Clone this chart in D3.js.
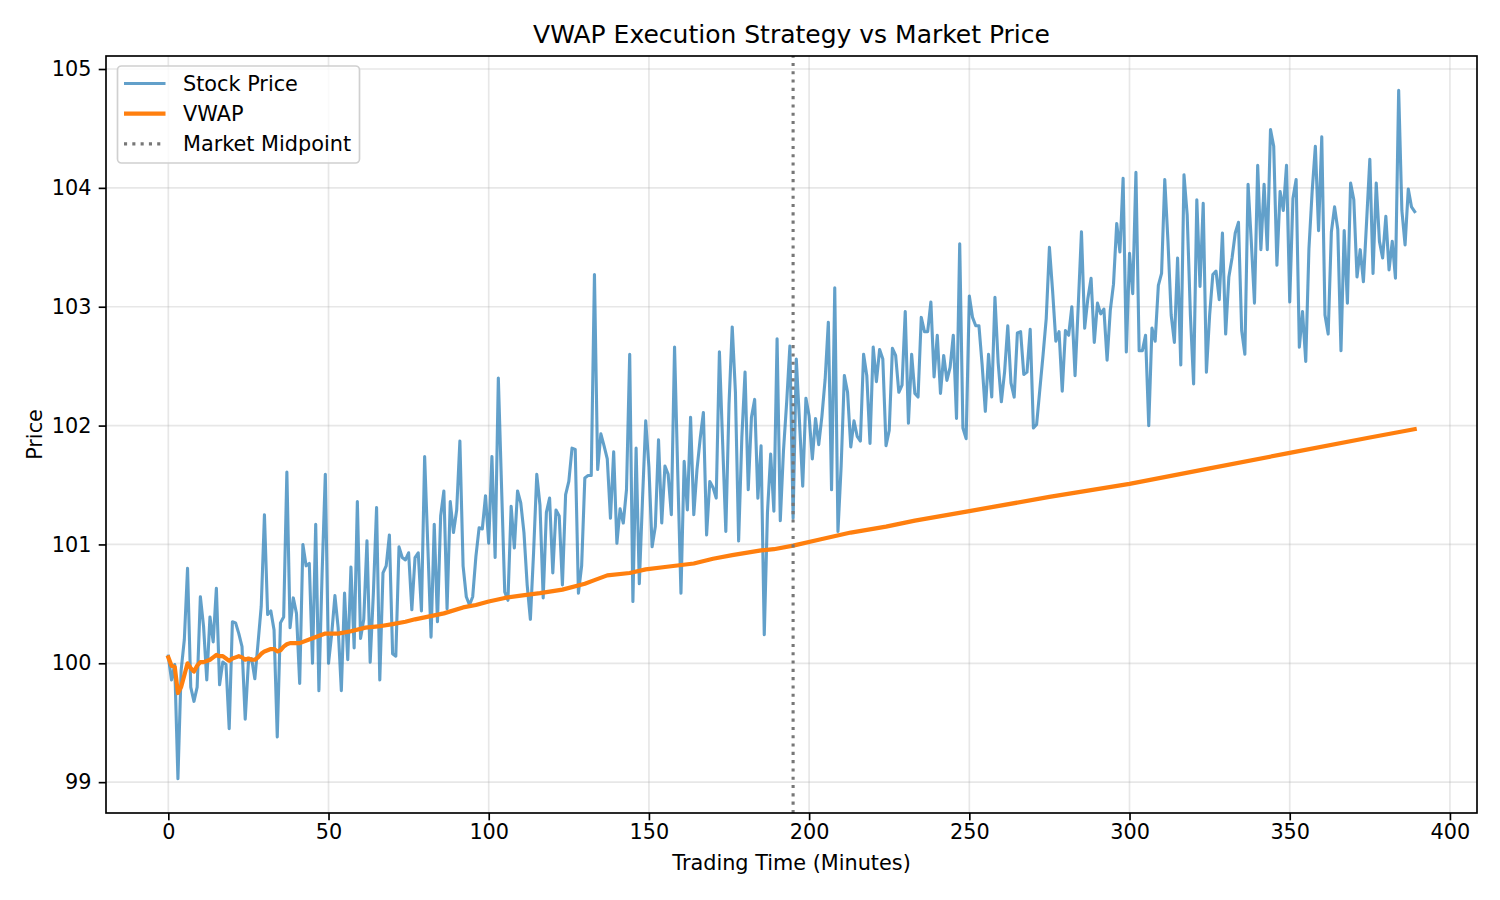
<!DOCTYPE html>
<html><head><meta charset="utf-8">
<script src="https://cdn.jsdelivr.net/npm/d3@7"></script>
<style>
body{margin:0;background:#fff}
svg{display:block}
text{font-family:"DejaVu Sans",sans-serif;fill:#000}
</style>
</head><body>
<svg id="chart" width="1500" height="900"></svg>
<script>
// ---- data ----
const stockPrice = [
100.06,99.86,99.99,99.03,99.94,100.20,100.80,99.80,99.68,99.80,
100.56,100.31,99.86,100.39,100.18,100.63,99.82,100.01,99.99,99.45,
100.35,100.34,100.25,100.14,99.53,100.01,100.04,99.87,100.17,100.48,
101.25,100.41,100.44,100.28,99.38,100.34,100.39,101.61,100.30,100.55,
100.42,99.83,101.00,100.82,100.84,100.00,101.17,99.77,100.76,101.59,
100.00,100.25,100.57,100.30,99.77,100.59,100.03,100.81,100.13,101.36,
100.21,100.37,101.03,100.01,100.59,101.31,99.86,100.76,100.82,101.08,
100.08,100.06,100.98,100.89,100.87,100.93,100.45,100.89,100.93,100.44,
101.74,100.98,100.22,101.17,100.35,101.24,101.45,100.46,101.36,101.10,
101.29,101.87,100.82,100.56,100.49,100.56,100.90,101.14,101.13,101.41,
101.01,101.74,100.89,102.40,101.49,100.60,100.53,101.32,100.97,101.45,
101.35,101.10,100.66,100.37,100.93,101.59,101.33,100.55,101.27,101.39,
100.76,101.29,101.24,100.66,101.42,101.53,101.81,101.80,100.59,100.82,
101.56,101.58,101.58,103.27,101.63,101.93,101.83,101.72,101.22,101.78,
101.01,101.30,101.18,101.46,102.60,100.52,101.81,100.67,101.38,102.04,
101.65,100.98,101.15,101.88,101.18,101.66,101.59,101.25,102.66,101.60,
100.59,101.70,101.29,102.07,101.25,101.63,101.89,102.11,101.08,101.53,
101.48,101.39,102.62,101.86,101.11,102.18,102.83,102.28,101.03,101.90,
102.45,101.46,102.07,102.22,101.39,101.83,100.24,101.27,101.76,101.28,
102.73,101.20,101.79,102.20,102.67,101.22,102.56,102.03,101.49,102.23,
102.08,101.72,102.06,101.84,102.08,102.39,102.87,101.46,103.16,101.11,
101.66,102.42,102.28,101.82,102.04,101.91,101.87,102.60,102.42,101.85,
102.66,102.37,102.64,102.56,101.83,101.96,102.65,102.59,102.28,102.34,
102.96,102.02,102.60,102.27,102.24,102.91,102.79,102.79,103.04,102.41,
102.76,102.27,102.59,102.38,102.49,102.76,102.06,103.53,101.98,101.89,
103.09,102.91,102.84,102.84,102.51,102.12,102.60,102.24,103.08,102.53,
102.20,102.45,102.84,102.36,102.24,102.78,102.79,102.43,102.45,102.81,
101.98,102.01,102.30,102.59,102.90,103.50,103.13,102.71,102.79,102.29,
102.80,102.76,103.00,102.42,103.01,103.63,102.82,103.07,103.24,102.70,
103.03,102.94,102.98,102.55,102.97,103.19,103.70,103.46,104.08,102.62,
103.45,103.11,104.13,102.63,102.63,102.76,102.00,102.82,102.71,103.18,
103.28,104.07,103.55,102.93,102.70,103.41,102.51,104.11,103.77,102.93,
102.35,103.90,103.17,103.87,102.45,102.93,103.27,103.30,103.06,103.62,
102.77,103.25,103.41,103.62,103.71,102.80,102.60,104.03,103.55,103.03,
104.19,103.48,104.03,103.48,104.49,104.35,103.35,103.97,103.81,104.19,
103.04,103.91,104.07,102.66,102.96,102.54,103.49,103.97,104.35,103.64,
104.43,102.93,102.77,103.63,103.84,103.65,102.63,103.64,103.03,104.04,
103.90,103.25,103.48,103.21,103.72,104.24,103.28,104.04,103.55,103.41,
103.76,103.31,103.55,103.24,104.82,103.81,103.52,103.99,103.84,103.80
];
const minutes = stockPrice.map((_, i) => i);

const vwapMinutes = [0,1,2,3,4,5,6,7,8,9,10,11,12,13,14,15,16,17,18,19,20,21,22,23,24,25,26,27,28,29,30,31,32,33,34,35,36,37,38,
  41,45,49,53,57,61.5,65.5,70,74,77,86,92,96,100,105,110,116,123,130,133,137,144,149,155,164,170,176,185,189,195,203,213,224,233,250,275,300,325,350,375,389];
const vwapValues = [100.05,99.98,99.97,99.75,99.80,99.90,100.00,99.96,99.93,99.98,100.01,100.01,100.02,100.03,100.05,100.07,100.06,100.06,100.04,100.02,100.04,100.05,100.06,100.05,100.03,100.04,100.03,100.03,100.05,100.08,100.10,100.11,100.12,100.12,100.10,100.11,100.14,100.16,100.17,
  100.17,100.21,100.25,100.25,100.27,100.30,100.31,100.33,100.35,100.37,100.42,100.47,100.49,100.52,100.55,100.57,100.59,100.62,100.67,100.70,100.74,100.76,100.79,100.81,100.84,100.88,100.91,100.95,100.96,100.99,101.04,101.10,101.15,101.20,101.28,101.40,101.51,101.64,101.77,101.90,101.97];

const midpoint = 195;
const xTicks = [0,50,100,150,200,250,300,350,400];
const yTicks = [99,100,101,102,103,104,105];
const labels = {title:"VWAP Execution Strategy vs Market Price", x:"Trading Time (Minutes)", y:"Price"};
const legendItems = [
  {name:"Stock Price", color:"#1f77b4", opacity:0.7, width:3.1, dash:null},
  {name:"VWAP", color:"#ff7f0e", opacity:1, width:4.2, dash:null},
  {name:"Market Midpoint", color:"#777777", opacity:1, width:3.1, dash:"3.1,5.2"}
];

// ---- layout ----
const L = 106, R = 1477, T = 56, B = 813;
const svg = d3.select("#chart");

const xMin = 0, xMax = minutes[minutes.length-1];
const xPad = (xMax - xMin) * 0.05;
const x = d3.scaleLinear().domain([xMin - xPad, xMax + xPad]).range([L, R]);
const allY = stockPrice.concat(vwapValues);
const yLo = d3.min(allY), yHi = d3.max(allY);
const yPad = (yHi - yLo) * 0.05;
const y = d3.scaleLinear().domain([yLo - yPad, yHi + yPad]).range([B, T]);

// grid
const grid = svg.append("g");
grid.selectAll(".gx").data(xTicks).join("line")
  .attr("x1", d => x(d)).attr("x2", d => x(d)).attr("y1", T).attr("y2", B)
  .attr("stroke", "#b0b0b0").attr("stroke-opacity", 0.3).attr("stroke-width", 1.67);
grid.selectAll(".gy").data(yTicks).join("line")
  .attr("x1", L).attr("x2", R).attr("y1", d => y(d)).attr("y2", d => y(d))
  .attr("stroke", "#b0b0b0").attr("stroke-opacity", 0.3).attr("stroke-width", 1.67);

// lines
const stockLine = d3.line().x((d, i) => x(minutes[i])).y(d => y(d));
svg.append("path").datum(stockPrice).attr("d", stockLine)
  .attr("fill", "none").attr("stroke", "#1f77b4").attr("stroke-opacity", 0.7)
  .attr("stroke-width", 3.1).attr("stroke-linejoin", "round").attr("stroke-linecap", "square");

const vwapLine = d3.line().x((d, i) => x(vwapMinutes[i])).y(d => y(d));
svg.append("path").datum(vwapValues).attr("d", vwapLine)
  .attr("fill", "none").attr("stroke", "#ff7f0e")
  .attr("stroke-width", 4.2).attr("stroke-linejoin", "round").attr("stroke-linecap", "square");

// midpoint
svg.append("line").attr("x1", x(midpoint)).attr("x2", x(midpoint)).attr("y1", B).attr("y2", T)
  .attr("stroke", "#777777").attr("stroke-width", 3.1).attr("stroke-dasharray", "3.1,5.2");

// axes
const xAxis = d3.axisBottom(x).tickValues(xTicks).tickSize(7.3).tickPadding(4).tickFormat(d3.format("d"));
const gx = svg.append("g").attr("transform", `translate(0,${B})`).call(xAxis);
const yAxis = d3.axisLeft(y).tickValues(yTicks).tickSize(7.3).tickPadding(7.3).tickFormat(d3.format("d"));
const gy = svg.append("g").attr("transform", `translate(${L},0)`).call(yAxis);
[gx, gy].forEach(g => {
  g.select(".domain").remove();
  g.selectAll(".tick line").attr("stroke", "#000").attr("stroke-width", 1.67);
  g.selectAll(".tick text").attr("font-size", "20.8px").attr("font-family", "DejaVu Sans").attr("fill", "#000");
});

// frame
svg.append("rect").attr("x", L).attr("y", T).attr("width", R - L).attr("height", B - T)
  .attr("fill", "none").attr("stroke", "#000").attr("stroke-width", 1.67);

// titles
svg.append("text").attr("x", (L + R) / 2).attr("y", 43).attr("text-anchor", "middle")
  .attr("font-size", "25px").text(labels.title);
svg.append("text").attr("x", (L + R) / 2).attr("y", 870).attr("text-anchor", "middle")
  .attr("font-size", "20.8px").text(labels.x);
svg.append("text").attr("transform", `translate(41.5,${(T + B) / 2}) rotate(-90)`).attr("text-anchor", "middle")
  .attr("font-size", "20.8px").text(labels.y);

// legend
const lg = svg.append("g");
lg.append("rect").attr("x", 117.5).attr("y", 66).attr("width", 242).attr("height", 97).attr("rx", 4)
  .attr("fill", "#fff").attr("fill-opacity", 0.8).attr("stroke", "#d0d0d0").attr("stroke-width", 1.67);
legendItems.forEach((it, i) => {
  const cy = 83.5 + i * 30.2;
  lg.append("line").attr("x1", 124).attr("x2", 165.5).attr("y1", cy).attr("y2", cy)
    .attr("stroke", it.color).attr("stroke-opacity", it.opacity).attr("stroke-width", it.width)
    .attr("stroke-dasharray", it.dash);
  lg.append("text").attr("x", 183).attr("y", cy + 7.4).attr("font-size", "20.8px").text(it.name);
});
</script>
</body></html>
